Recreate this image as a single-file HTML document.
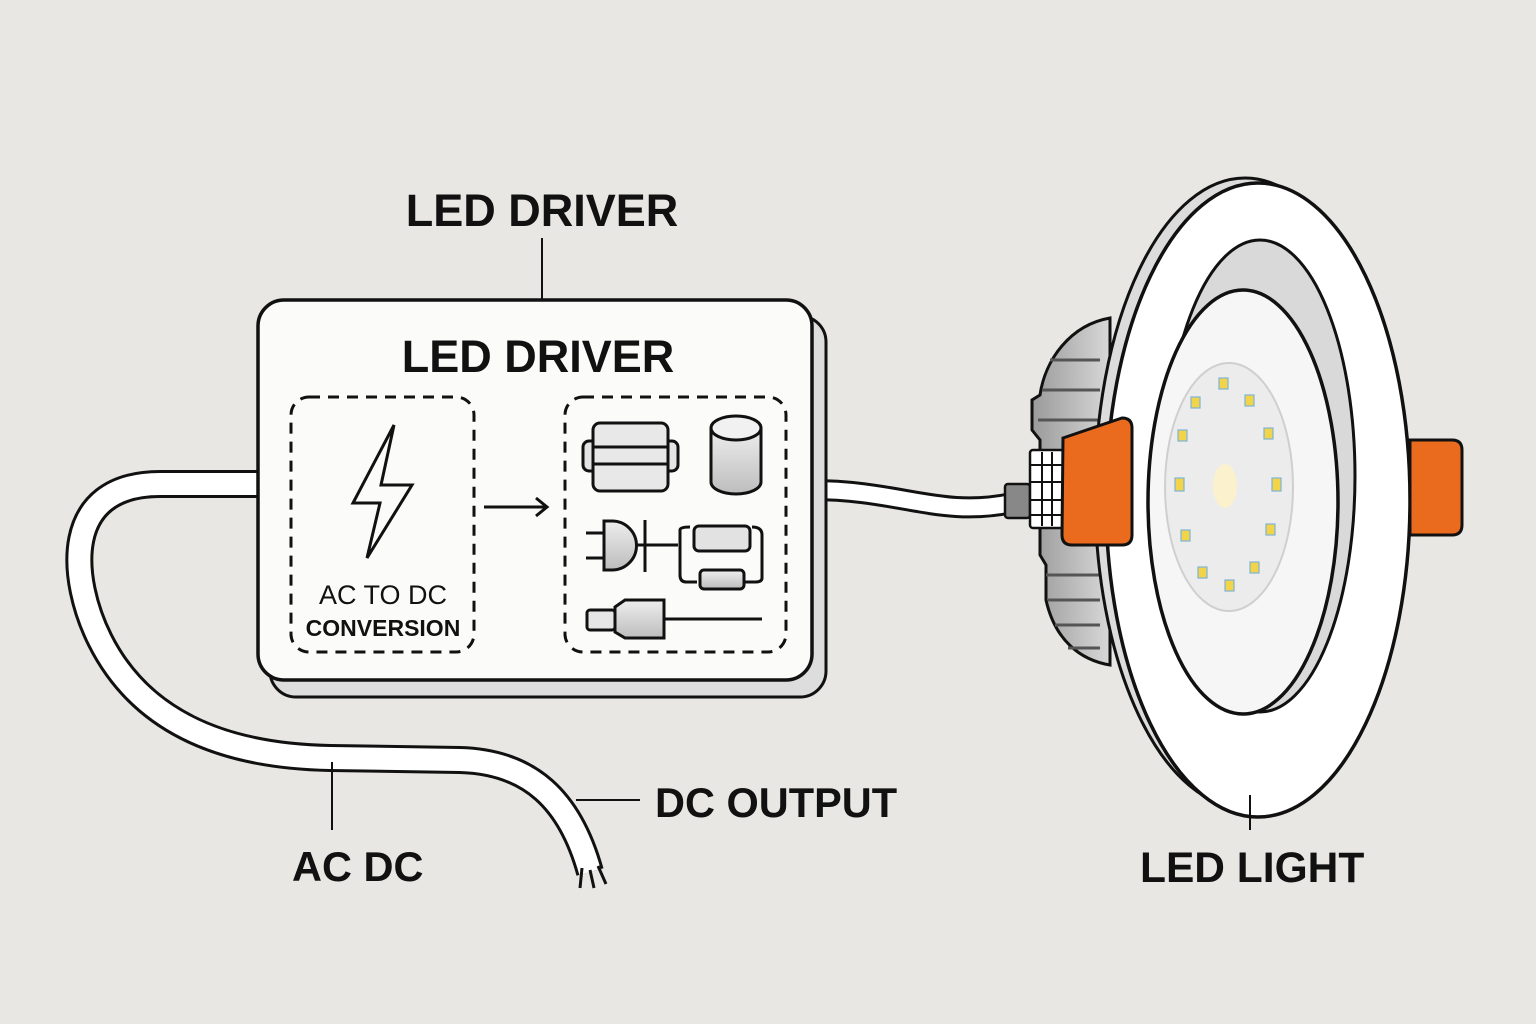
<!DOCTYPE html>
<html><head><meta charset="utf-8"><style>
html,body{margin:0;padding:0;background:#e8e7e3;}
svg{display:block}
text{font-family:"Liberation Sans",sans-serif;font-weight:bold;fill:#111}
</style></head><body>
<svg width="1536" height="1024" viewBox="0 0 1536 1024" xmlns="http://www.w3.org/2000/svg">
<rect width="1536" height="1024" fill="#e8e7e3"/>
<defs>
<linearGradient id="g1" x1="0" y1="0" x2="0" y2="1"><stop offset="0" stop-color="#eee"/><stop offset="1" stop-color="#bdbdbd"/></linearGradient>
<linearGradient id="hs" x1="0" y1="0" x2="1" y2="0"><stop offset="0" stop-color="#9a9a9a"/><stop offset="1" stop-color="#d8d8d8"/></linearGradient>
</defs>
<path d="M262,484 L160,484 C60,484 70,580 100,640 C140,720 220,756 330,758 L460,760 C530,762 570,800 590,872" fill="none" stroke="#111" stroke-width="28"/>
<path d="M262,484 L160,484 C60,484 70,580 100,640 C140,720 220,756 330,758 L460,760 C530,762 570,800 590,872" fill="none" stroke="#fff" stroke-width="22"/>
<path d="M582,868 L580,888 M590,870 L594,888 M598,866 L606,884" stroke="#111" stroke-width="3"/>
<path d="M812,490 C900,490 940,518 1012,503" fill="none" stroke="#111" stroke-width="22"/>
<path d="M812,490 C900,490 940,518 1012,503" fill="none" stroke="#fff" stroke-width="16"/>
<rect x="270" y="316" width="556" height="381" rx="26" fill="#ddd" stroke="#111" stroke-width="3"/>
<rect x="258" y="300" width="554" height="380" rx="26" fill="#fbfbfa" stroke="#111" stroke-width="3.5"/>
<rect x="291" y="397" width="183" height="255" rx="18" fill="none" stroke="#111" stroke-width="3" stroke-dasharray="11,8"/>
<rect x="565" y="397" width="221" height="255" rx="18" fill="none" stroke="#111" stroke-width="3" stroke-dasharray="11,8"/>
<text x="538" y="372" font-size="45" text-anchor="middle">LED DRIVER</text>
<polygon points="394,425 353,503 380,503 367,558 412,485 381,485" fill="none" stroke="#111" stroke-width="3"/>
<text x="383" y="604" font-size="27" text-anchor="middle" style="font-weight:normal">AC TO DC</text>
<text x="383" y="636" font-size="23" text-anchor="middle">CONVERSION</text>
<path d="M484,507 L546,507 M536,498 L547,507 L536,516" fill="none" stroke="#111" stroke-width="3"/>
<rect x="583" y="441" width="95" height="30" rx="6" fill="#e4e4e4" stroke="#111" stroke-width="3"/>
<rect x="593" y="423" width="75" height="68" rx="7" fill="#e8e8e8" stroke="#111" stroke-width="3"/>
<path d="M593,447 H668 M593,464 H668" stroke="#111" stroke-width="3"/>
<path d="M711,428 V482 A25,12 0 0 0 761,482 V428" fill="url(#g1)" stroke="#111" stroke-width="3"/>
<ellipse cx="736" cy="428" rx="25" ry="12" fill="#f1f1f1" stroke="#111" stroke-width="3"/>
<path d="M586,533 H604 M586,558 H604" stroke="#111" stroke-width="3"/>
<path d="M604,521 H612 A24,24 0 0 1 612,570 H604 Z" fill="url(#g1)" stroke="#111" stroke-width="3"/>
<path d="M636,545 H678 M645,520 V572" stroke="#111" stroke-width="3"/>
<path d="M680,545 V530 Q680,527 690,527 M752,527 Q762,527 762,535 V578 Q762,582 755,582 H745 M697,582 H686 Q680,582 680,575 V545" fill="none" stroke="#111" stroke-width="3"/>
<rect x="694" y="526" width="56" height="25" rx="5" fill="#e2e2e2" stroke="#111" stroke-width="3"/>
<rect x="700" y="570" width="44" height="19" rx="4" fill="url(#g1)" stroke="#111" stroke-width="3"/>
<rect x="587" y="610" width="28" height="20" rx="3" fill="#e6e6e6" stroke="#111" stroke-width="3"/>
<path d="M615,607 L625,600 H664 V638 H625 L615,632 Z" fill="url(#g1)" stroke="#111" stroke-width="3"/>
<path d="M664,619 H762" stroke="#111" stroke-width="3"/>
<path d="M1110,318 C1070,325 1045,360 1040,395 L1032,400 V430 L1040,440 V555 L1046,565 V600 C1055,640 1080,660 1110,665 Z" fill="url(#hs)" stroke="#111" stroke-width="3"/>
<path d="M1050,360 H1100 M1042,390 H1100 M1038,420 H1100 M1046,575 H1100 M1048,600 H1100 M1055,625 H1100 M1068,648 H1100" stroke="#555" stroke-width="3"/>
<rect x="1005" y="484" width="25" height="34" rx="3" fill="#888" stroke="#111" stroke-width="2.5"/>
<rect x="1030" y="450" width="34" height="78" rx="3" fill="#fff" stroke="#111" stroke-width="2.5"/>
<path d="M1030,465 H1064 M1030,482 H1064 M1030,500 H1064 M1030,515 H1064 M1042,452 V526 M1052,452 V526" stroke="#111" stroke-width="2"/>
<ellipse cx="1245" cy="493" rx="150" ry="315" fill="#dcdcdc" stroke="#111" stroke-width="3"/>
<ellipse cx="1258" cy="500" rx="152" ry="317" fill="#fff" stroke="#111" stroke-width="3.5"/>
<path d="M1063,438 L1122,418 Q1132,418 1132,428 V535 Q1132,545 1122,545 H1072 Q1062,545 1062,535 Z" fill="#ea6a1e" stroke="#111" stroke-width="3"/>
<path d="M1410,440 H1452 Q1462,440 1462,450 V525 Q1462,535 1452,535 H1410 Z" fill="#ea6a1e" stroke="#111" stroke-width="3"/>
<ellipse cx="1260" cy="476" rx="95" ry="236" fill="#d9d9d9" stroke="#111" stroke-width="3"/>
<ellipse cx="1243" cy="502" rx="95" ry="212" fill="#f6f6f6" stroke="#111" stroke-width="3.5"/>
<ellipse cx="1229" cy="487" rx="64" ry="124" fill="#ececec" stroke="#cfcfcf" stroke-width="2"/>
<ellipse cx="1225" cy="486" rx="12" ry="22" fill="#fbf1cc"/>
<g fill="#f1d449" stroke="#7fb4d6" stroke-width="1.2">
<rect x="1219" y="378" width="9" height="11"/>
<rect x="1245" y="395" width="9" height="11"/>
<rect x="1264" y="428" width="9" height="11"/>
<rect x="1272" y="478" width="9" height="13"/>
<rect x="1266" y="524" width="9" height="11"/>
<rect x="1250" y="562" width="9" height="11"/>
<rect x="1225" y="580" width="9" height="11"/>
<rect x="1198" y="567" width="9" height="11"/>
<rect x="1181" y="530" width="9" height="11"/>
<rect x="1175" y="478" width="9" height="13"/>
<rect x="1178" y="430" width="9" height="11"/>
<rect x="1191" y="397" width="9" height="11"/>
</g>
<path d="M542,238 V300 M332,762 V830 M576,800 H640 M1250,795 V830" stroke="#111" stroke-width="2"/>
<text x="542" y="226" font-size="45" text-anchor="middle">LED DRIVER</text>
<text x="655" y="817" font-size="41.5">DC OUTPUT</text>
<text x="292" y="881" font-size="41.5">AC DC</text>
<text x="1140" y="882" font-size="42.5">LED LIGHT</text>
</svg>
</body></html>
